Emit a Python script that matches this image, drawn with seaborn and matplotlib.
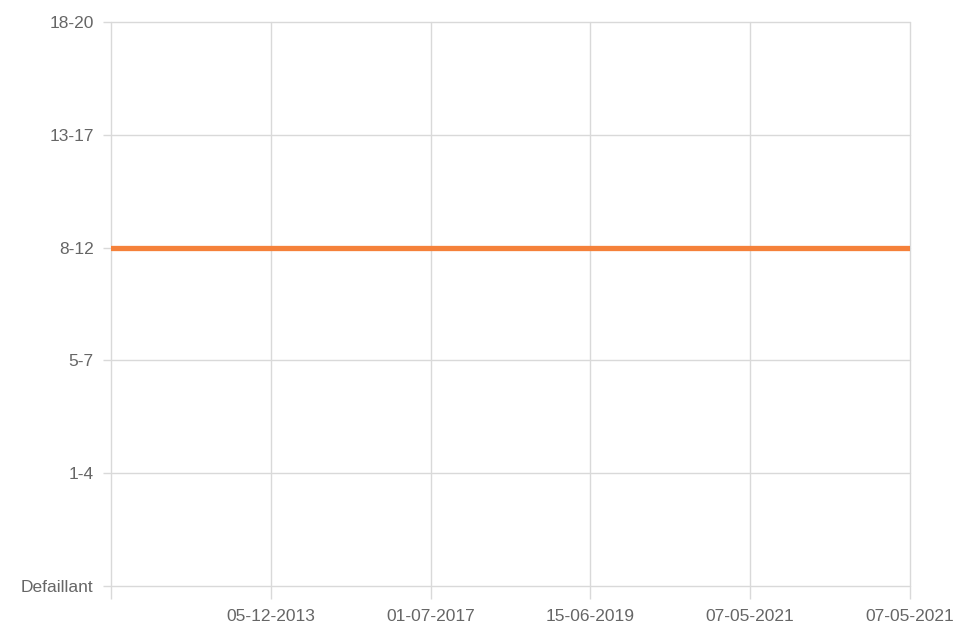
import pandas as pd
import matplotlib.pyplot as plt
import seaborn as sns

# evaluation dates (first point has no label)
dates = ["", "05-12-2013", "01-07-2017", "15-06-2019", "07-05-2021", "07-05-2021"]
# grade bands, lowest first
levels = ["Defaillant", "1-4", "5-7", "8-12", "13-17", "18-20"]
# band reached at each evaluation
grades = ["8-12", "8-12", "8-12", "8-12", "8-12", "8-12"]

df = pd.DataFrame({
    "pos": range(len(dates)),
    "level": [levels.index(g) for g in grades],
})

sns.set_style("white")
plt.rcParams["font.family"] = ["Liberation Sans", "DejaVu Sans"]

fig = plt.figure(figsize=(9.61, 6.23), dpi=100)
ax = fig.add_axes([111 / 961, 1 - 586 / 623, (910 - 111) / 961, (586 - 22) / 623])

sns.lineplot(data=df, x="pos", y="level", color="#f5813a", linewidth=3.8, ax=ax)

grid_c = "#d9d9d9"
ax.set_xlim(0, len(dates) - 1)
ax.set_ylim(0, len(levels) - 1)
ax.set_xticks(range(len(dates)))
ax.set_xticklabels(dates)
ax.set_yticks(range(len(levels)))
ax.set_yticklabels(levels)
ax.grid(True, color=grid_c, linewidth=1)
ax.set_axisbelow(True)
for gl in ax.get_xgridlines() + ax.get_ygridlines():
    gl.set_clip_on(False)
for s in ax.spines.values():
    s.set_visible(False)
ax.tick_params(axis="x", bottom=True, length=9, width=1, color=grid_c,
               labelcolor="#666666", labelsize=12.5, pad=7.5)
ax.tick_params(axis="y", left=True, length=6, width=1, color=grid_c,
               labelcolor="#666666", labelsize=12.5, pad=6.5)
ax.set_xlabel("")
ax.set_ylabel("")

fig.savefig("out.png", dpi=100)
